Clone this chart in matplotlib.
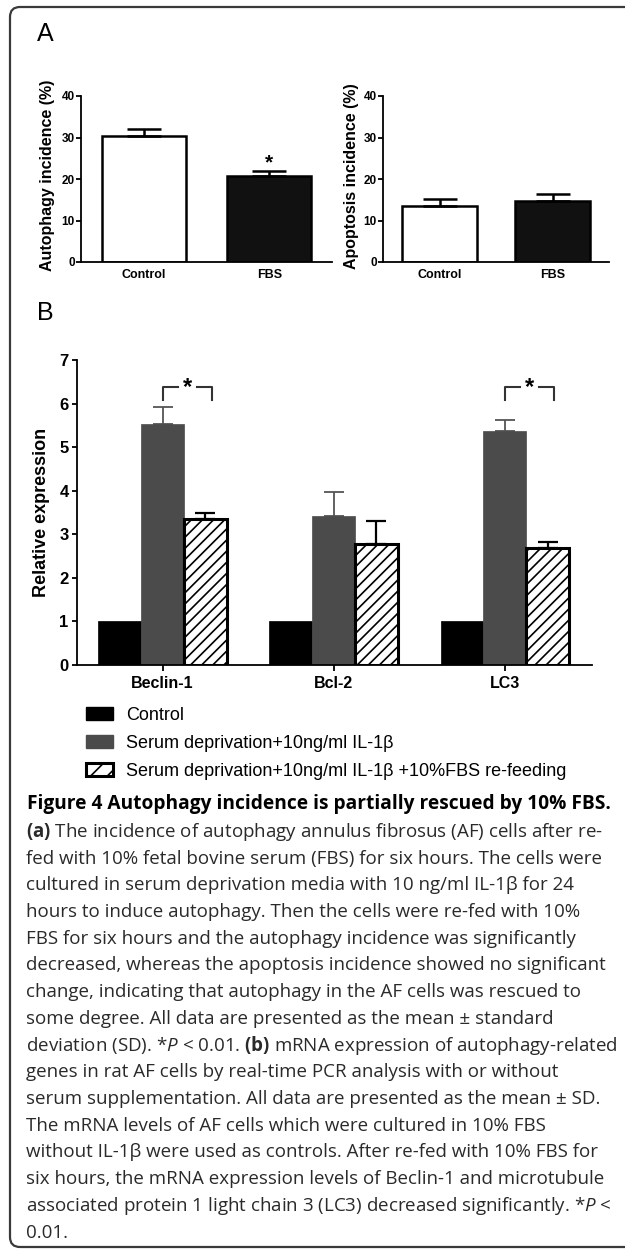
import numpy as np
import matplotlib
matplotlib.use('Agg')
import matplotlib.pyplot as plt
from matplotlib.patches import Patch, PathPatch
from matplotlib.path import Path

# panel A: incidence (%) after re-feeding
groups_a = ['Control', 'FBS']
autophagy = [30.4, 20.7]
autophagy_sd = [1.6, 1.3]
apoptosis = [13.6, 14.8]
apoptosis_sd = [1.7, 1.5]

# panel B: relative mRNA expression
genes = ['Beclin-1', 'Bcl-2', 'LC3']
control_expr = [1.0, 1.0, 1.0]
serum_expr = [5.52, 3.42, 5.37]
serum_sd = [0.41, 0.56, 0.25]
refeed_expr = [3.36, 2.77, 2.68]
refeed_sd = [0.12, 0.54, 0.14]
signif_genes = ['Beclin-1', 'LC3']

legend_labels = ['Control',
                 'Serum deprivation+10ng/ml IL-1\u03b2',
                 'Serum deprivation+10ng/ml IL-1\u03b2 +10%FBS re-feeding']

caption_title = 'Figure 4 Autophagy incidence is partially rescued by 10% FBS.'
caption_lines = [
    r'$\mathbf{(a)}$ The incidence of autophagy annulus fibrosus (AF) cells after re-',
    'fed with 10% fetal bovine serum (FBS) for six hours. The cells were',
    'cultured in serum deprivation media with 10 ng/ml IL-1\u03b2 for 24',
    'hours to induce autophagy. Then the cells were re-fed with 10%',
    'FBS for six hours and the autophagy incidence was significantly',
    'decreased, whereas the apoptosis incidence showed no significant',
    'change, indicating that autophagy in the AF cells was rescued to',
    'some degree. All data are presented as the mean \u00b1 standard',
    r'deviation (SD). *$\mathit{P}$ < 0.01. $\mathbf{(b)}$ mRNA expression of autophagy-related',
    'genes in rat AF cells by real-time PCR analysis with or without',
    'serum supplementation. All data are presented as the mean \u00b1 SD.',
    'The mRNA levels of AF cells which were cultured in 10% FBS',
    'without IL-1\u03b2 were used as controls. After re-fed with 10% FBS for',
    'six hours, the mRNA expression levels of Beclin-1 and microtubule',
    r'associated protein 1 light chain 3 (LC3) decreased significantly. *$\mathit{P}$ <',
    '0.01.',
]

plt.rcParams['font.family'] = ['Liberation Sans', 'DejaVu Sans']
plt.rcParams['hatch.linewidth'] = 1.2
plt.rcParams['mathtext.fontset'] = 'custom'
plt.rcParams['mathtext.rm'] = 'Open Sans'
plt.rcParams['mathtext.it'] = 'Open Sans:italic'
plt.rcParams['mathtext.bf'] = 'Open Sans:bold'

W, H = 625, 1250
fig = plt.figure(figsize=(6.25, 12.5), dpi=100)

# background axes in pixel units for frame, panel letters and caption
bg = fig.add_axes([0, 0, 1, 1])
bg.set_xlim(0, W)
bg.set_ylim(H, 0)
bg.axis('off')

# open frame: top, left and bottom sides with rounded left corners
r = 10
frame = Path([(W + 20, 7), (10 + r, 7), (10, 7), (10, 7 + r), (10, 1247 - r),
              (10, 1247), (10 + r, 1247), (W + 20, 1247)],
             [Path.MOVETO, Path.LINETO, Path.CURVE3, Path.CURVE3, Path.LINETO,
              Path.CURVE3, Path.CURVE3, Path.LINETO])
bg.add_patch(PathPatch(frame, fill=False, lw=1.6, ec='#3a3a3a'))
bg.text(37, 34, 'A', fontsize=18, va='center', ha='left')
bg.text(37, 313, 'B', fontsize=18, va='center', ha='left')


def px_axes(x0, y0, x1, y1):
    return fig.add_axes([x0 / W, 1 - y1 / H, (x1 - x0) / W, (y1 - y0) / H])


def style_axes(ax):
    for s in ['top', 'right']:
        ax.spines[s].set_visible(False)
    for s in ['left', 'bottom']:
        ax.spines[s].set_linewidth(1.3)
    ax.tick_params(axis='y', direction='out', length=3.5, width=1.3, pad=1)


def incidence_panel(ax, vals, sds, ylabel, label_x):
    x = np.arange(len(groups_a))
    ax.bar(x, vals, width=0.67, color=['white', '#111111'], edgecolor='black',
           linewidth=1.8, zorder=2)
    ax.errorbar(x, vals, yerr=[np.zeros(len(vals)), sds], fmt='none', ecolor='black',
                elinewidth=1.8, capsize=12, capthick=1.8, zorder=3)
    ax.set_xlim(-0.5, 1.5)
    ax.set_ylim(0, 40)
    ax.set_yticks([0, 10, 20, 30, 40])
    ax.set_xticks(x)
    ax.set_xticklabels(groups_a, fontsize=9, fontweight='bold')
    ax.tick_params(axis='x', length=0, pad=5)
    style_axes(ax)
    for t in ax.get_yticklabels():
        t.set_fontsize(8.5)
        t.set_fontweight('bold')
    ax.set_ylabel(ylabel, fontsize=11.5, fontweight='bold')
    ax.yaxis.set_label_coords(label_x, 0.52)


axA1 = px_axes(81, 96, 332, 262)
incidence_panel(axA1, autophagy, autophagy_sd, 'Autophagy incidence (%)', -0.105)
axA1.text(1, autophagy[1] + autophagy_sd[1] + 2.0, '*', ha='center', va='center',
          fontsize=15, fontweight='bold')

axA2 = px_axes(383, 96, 609, 262)
incidence_panel(axA2, apoptosis, apoptosis_sd, 'Apoptosis incidence (%)', -0.105)

# panel B
axB = px_axes(77, 360, 592, 665)
xb = np.arange(len(genes))
bw = 0.25
axB.bar(xb - bw, control_expr, width=bw, color='black', edgecolor='black', linewidth=0.5, zorder=2)
axB.bar(xb, serum_expr, width=bw, color='#4b4b4b', edgecolor='#4b4b4b', linewidth=0.5, zorder=2)
axB.errorbar(xb, serum_expr, yerr=[np.zeros(3), serum_sd], fmt='none', ecolor='#555555',
             elinewidth=1.3, capsize=7, capthick=1.3, zorder=1)
axB.bar(xb + bw, refeed_expr, width=bw, color='white', edgecolor='black', linewidth=2.2,
        hatch='///', zorder=2)
axB.errorbar(xb + bw, refeed_expr, yerr=[np.zeros(3), refeed_sd], fmt='none', ecolor='black',
             elinewidth=1.6, capsize=7, capthick=1.6, zorder=1)
axB.set_xlim(-0.5, 2.51)
axB.set_ylim(0, 7)
axB.set_yticks(range(8))
axB.set_xticks(xb)
axB.set_xticklabels(genes, fontsize=11.5, fontweight='bold')
axB.tick_params(axis='x', direction='out', length=4, width=1.3, pad=4)
style_axes(axB)
axB.tick_params(axis='y', pad=2.5)
for t in axB.get_yticklabels():
    t.set_fontsize(12)
    t.set_fontweight('bold')
axB.set_ylabel('Relative expression', fontsize=13, fontweight='bold')
axB.yaxis.set_label_coords(-0.052, 0.5)

# significance brackets
for g in signif_genes:
    gx = genes.index(g)
    y0, y1 = 6.08, 6.38
    axB.plot([gx, gx, gx + 0.09], [y0, y1, y1], color='#333333', lw=1.5, zorder=3)
    axB.plot([gx + 0.2, gx + 0.29, gx + 0.29], [y1, y1, y0], color='#333333', lw=1.5, zorder=3)
    axB.text(gx + 0.145, y1 - 0.02, '*', ha='center', va='center', fontsize=17, fontweight='bold')

# legend
handles = [Patch(facecolor='black', edgecolor='black'),
           Patch(facecolor='#4b4b4b', edgecolor='#4b4b4b'),
           Patch(facecolor='white', edgecolor='black', linewidth=2.2, hatch='//')]
fig.legend(handles, legend_labels, loc='upper left', bbox_to_anchor=(86 / W, 1 - 707 / H),
           frameon=False, fontsize=13, handlelength=1.5, handleheight=0.75,
           handletextpad=0.7, labelspacing=0.6, borderpad=0, borderaxespad=0)

# caption
bg.text(27, 809, caption_title, fontsize=13.8, fontweight='bold', family='Open Sans',
        va='baseline', ha='left', color='black')
for i, line in enumerate(caption_lines):
    bg.text(26, 837 + i * 26.7, line, fontsize=13.5, family='Open Sans', va='baseline',
            ha='left', color='#2a2a2a')

fig.savefig('out.png', dpi=100)
